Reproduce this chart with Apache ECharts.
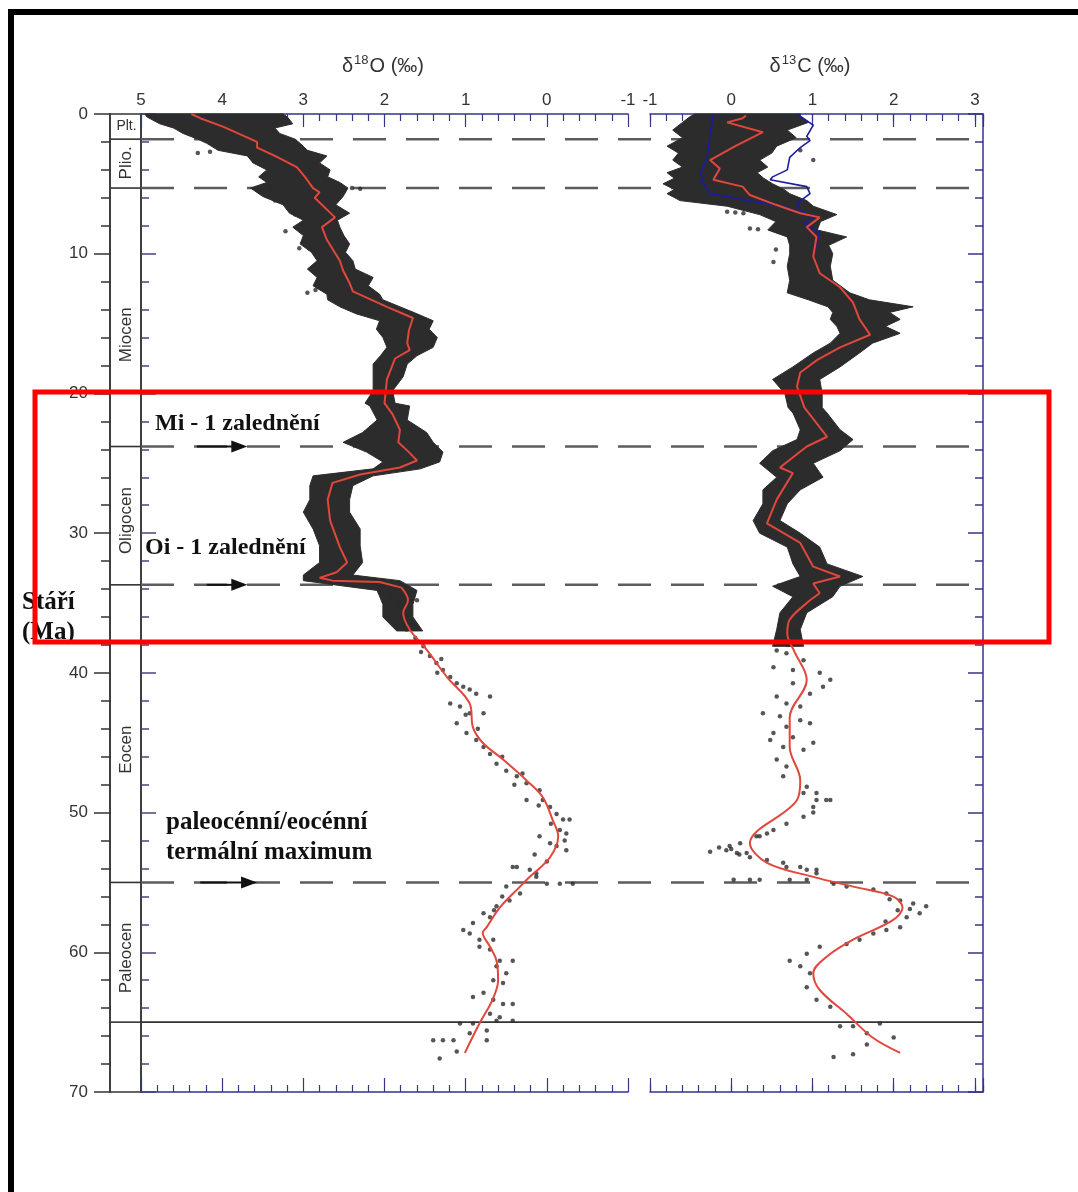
<!DOCTYPE html>
<html><head><meta charset="utf-8">
<script src="https://cdn.jsdelivr.net/npm/echarts@6/dist/echarts.min.js"></script>
<style>html,body{margin:0;padding:0;background:#fff}#c{width:1078px;height:1192px}</style>
</head><body><div id="c"></div>
<script>
// ---------------- data ----------------
const epochNames = ['Plt.', 'Plio.', 'Miocen', 'Oligocen', 'Eocen', 'Paleocen'];
const epochLabelAges = [0.9, 3.5, 15.8, 29.1, 45.5, 60.4];
const epochBoundaries = [1.8, 5.3, 23.8, 33.7, 55, 65];
const dashedAges = [1.8, 5.3, 23.8, 33.7, 55];
const solidAges = [65];

// δ18O smoothed (red) [age, value]
const d18SmoothNeogene = [[0.0,4.38],[0.3,4.27],[0.9,3.99],[2.0,3.57],[2.4,3.57],[3.0,3.35],[3.8,3.08],[4.5,2.98],[5.3,2.88],[5.6,2.80],[6.0,2.86],[7.4,2.61],[8.1,2.77],[9.0,2.71],[10.5,2.55],[11.2,2.51],[12.1,2.43],[12.7,2.39],[13.8,1.97],[14.6,1.65],[15.5,1.70],[16.4,1.72],[16.9,1.69],[17.5,1.87],[19.0,1.97],[20.7,2.00],[21.5,1.90],[22.6,1.81],[23.5,1.83],[24.2,1.70],[24.8,1.60],[25.3,1.81],[25.8,2.30],[26.4,2.64],[27.6,2.70],[29.1,2.67],[31.0,2.55],[32.1,2.46],[32.8,2.59],[33.2,2.80],[33.4,2.64],[33.5,2.06],[33.9,1.79]];
const d18SmoothPaleogene = [[33.9,1.79],[34.8,1.71],[35.7,1.77],[36.9,1.69],[38.2,1.50],[40.3,1.23],[42.2,0.95],[43.9,0.91],[45.0,0.79],[46.2,0.54],[47.7,0.25],[48.9,0.05],[50.5,-0.07],[51.7,-0.14],[53.2,-0.04],[54.6,0.21],[55.3,0.33],[56.8,0.58],[58.2,0.74],[58.6,0.79],[59.6,0.70],[60.6,0.62],[62.0,0.60],[63.4,0.67],[65.1,0.83],[67.2,1.01]];
// δ18O dense data cloud envelope [age, high value, low value]
const d18Cloud = [[0,4.95,3.25],[0.2,4.93,3.20],[0.7,4.77,3.13],[1.0,4.60,3.35],[1.4,4.48,3.29],[1.8,4.30,3.10],[2.1,4.19,3.04],[2.6,4.05,2.95],[3.0,3.69,2.71],[3.5,3.62,2.80],[4.0,3.45,2.67],[4.5,3.55,2.70],[4.9,3.45,2.55],[5.3,3.65,2.45],[5.9,3.50,2.51],[6.5,3.25,2.60],[7.1,3.17,2.43],[7.6,3.00,2.58],[8.1,3.13,2.55],[8.7,3.00,2.50],[9.3,3.04,2.43],[9.9,2.90,2.48],[10.5,2.83,2.39],[11.1,2.95,2.36],[11.7,2.83,2.14],[12.3,2.88,2.20],[12.9,2.71,2.06],[13.3,2.70,2.02],[13.8,2.55,1.81],[14.3,2.35,1.60],[14.8,2.06,1.40],[15.4,2.10,1.45],[16.0,2.02,1.35],[16.7,1.97,1.40],[17.3,2.05,1.60],[17.9,2.14,1.72],[18.8,2.14,1.77],[19.8,2.14,1.90],[20.7,2.24,1.87],[20.9,2.18,1.69],[21.9,2.09,1.72],[22.8,2.27,1.48],[23.5,2.51,1.40],[24.2,2.22,1.28],[24.9,2.02,1.32],[25.4,2.14,1.56],[25.9,2.88,2.14],[26.6,2.92,2.39],[27.6,2.92,2.43],[28.5,3.00,2.43],[29.7,2.88,2.30],[30.9,2.80,2.30],[32.1,2.80,2.27],[33.0,3.00,2.39],[33.4,3.00,1.81],[34.1,2.09,1.60],[35.1,2.02,1.65],[36.0,2.02,1.65],[37.0,1.85,1.53]];
// δ18O individual points [age, value]
const d18Points = [[2.7,4.15],[2.8,4.30],[5.5,3.55],[5.4,3.40],[5.3,2.40],[5.35,2.30],[6.2,3.35],[7.2,3.10],[8.4,3.22],[9.6,3.05],[12.6,2.85],[12.8,2.95],[34.2,2.06],[34.55,1.93],[35.0,1.81],[34.8,1.60],[35.3,1.85],[36.1,1.97],[36.0,1.81],[36.5,1.65],[36.9,1.73],[37.5,1.62],[38.1,1.52],[38.5,1.55],[38.8,1.44],[39.0,1.30],[39.3,1.36],[39.8,1.28],[40.0,1.35],[40.3,1.19],[40.75,1.11],[41.0,1.03],[41.2,0.95],[41.5,0.87],[41.7,0.70],[42.2,1.19],[42.4,1.07],[42.9,0.95],[42.9,0.78],[43.0,1.00],[43.6,1.11],[44.0,0.85],[44.3,0.99],[44.8,0.87],[45.3,0.78],[45.8,0.70],[46.0,0.55],[46.5,0.62],[47.0,0.50],[47.2,0.30],[47.4,0.37],[47.9,0.25],[48.0,0.40],[48.4,0.09],[49.1,0.05],[49.1,0.25],[49.5,0.10],[49.6,-0.04],[50.1,-0.12],[50.5,-0.20],[50.5,-0.28],[50.8,-0.05],[51.25,-0.16],[51.5,-0.24],[51.7,0.09],[52.0,-0.22],[52.2,-0.04],[52.4,-0.12],[52.7,-0.24],[53.0,0.15],[53.5,0.00],[53.9,0.37],[53.9,0.42],[54.1,0.21],[54.35,0.13],[54.6,0.13],[55.1,0.00],[55.1,-0.16],[55.1,-0.32],[55.3,0.50],[55.8,0.33],[56.0,0.55],[56.3,0.46],[56.7,0.62],[57.0,0.65],[57.2,0.78],[57.5,0.70],[57.9,0.91],[58.4,1.03],[58.65,0.95],[59.1,0.83],[59.1,0.66],[59.6,0.83],[59.8,0.70],[60.6,0.58],[60.6,0.42],[61.0,0.62],[61.5,0.50],[62.0,0.66],[62.2,0.54],[62.9,0.78],[63.2,0.91],[63.4,0.66],[63.7,0.54],[63.7,0.42],[64.4,0.70],[64.65,0.58],[64.9,0.62],[64.9,0.42],[65.1,1.07],[65.1,0.91],[65.6,0.74],[65.8,0.95],[66.3,1.40],[66.3,1.28],[66.3,1.15],[66.3,0.74],[67.1,1.11],[67.6,1.32]];

// δ13C smoothed (red) [age, value]
const d13SmoothNeogene = [[0.1,0.18],[0.3,0.14],[0.6,-0.05],[1.3,0.39],[2.3,0.05],[3.3,-0.26],[3.9,-0.14],[4.7,-0.22],[5.2,0.14],[5.8,0.23],[6.5,0.55],[7.1,0.85],[7.4,1.09],[8.1,0.93],[8.8,1.05],[10.2,1.01],[11.4,1.09],[12.4,1.34],[13.5,1.50],[14.7,1.58],[15.8,1.71],[16.7,1.34],[17.6,1.06],[18.5,0.85],[19.5,0.81],[21.0,0.90],[23.1,1.18],[23.8,0.93],[25.3,0.60],[25.7,0.76],[27.6,0.56],[29.3,0.44],[30.7,0.85],[32.4,1.01],[33.1,1.34],[33.6,1.01],[34.3,1.09]];
const d13SmoothPaleogene = [[34.3,1.09],[35.0,0.93],[36.2,0.72],[37.2,0.69],[38.5,0.78],[40.5,0.93],[43.2,0.72],[45.3,0.72],[47.7,0.85],[49.1,0.81],[52.2,0.23],[53.6,0.44],[54.6,1.01],[55.3,1.50],[56.0,1.99],[56.8,2.11],[57.7,1.99],[59.1,1.50],[60.3,1.18],[61.5,1.01],[62.7,1.09],[64.4,1.42],[66.1,1.74],[67.2,2.08]];
// δ13C second record (blue), two edges [age, value]
const d13BlueRight = [[0.0,0.81],[0.8,1.01],[1.6,0.93],[1.9,0.97],[2.4,0.85],[3.1,0.72],[4.0,0.69],[4.5,0.51],[4.7,0.48],[5.2,0.93],[5.7,0.97],[6.4,0.81],[6.9,0.85],[7.4,1.01],[7.8,0.89],[8.5,1.09],[9.2,1.05],[10.0,1.01]];
const d13BlueLeft = [[0.0,-0.22],[1.4,-0.26],[3.3,-0.30],[4.2,-0.38],[4.9,-0.35],[5.7,-0.26],[5.9,-0.05],[6.2,0.19],[6.4,0.44],[6.7,0.69],[7.1,0.85]];
// δ13C dense data cloud envelope [age, low value, high value]
const d13Cloud = [[0,-0.45,0.85],[0.2,-0.51,0.85],[0.6,-0.60,0.95],[1.15,-0.72,0.69],[1.7,-0.60,0.80],[2.3,-0.79,0.56],[2.8,-0.65,0.50],[3.3,-0.72,0.35],[3.8,-0.60,0.45],[4.2,-0.79,0.32],[4.6,-0.70,0.40],[5.0,-0.84,0.51],[5.4,-0.70,0.65],[5.7,-0.79,0.72],[6.2,-0.63,0.93],[6.6,-0.05,1.01],[7.2,0.35,1.30],[7.7,0.55,1.10],[8.3,0.45,1.06],[8.8,0.69,1.42],[9.4,0.72,1.20],[10.0,0.72,1.25],[10.9,0.69,1.22],[11.9,0.72,1.25],[12.8,0.69,1.46],[13.3,0.95,1.70],[13.8,1.19,2.24],[14.2,1.25,1.95],[14.7,1.22,2.08],[15.2,1.30,1.90],[15.7,1.34,2.08],[16.4,1.22,1.74],[17.1,1.01,1.58],[18.1,0.76,1.34],[19.0,0.51,1.09],[20.0,0.66,1.12],[21.0,0.70,1.12],[21.4,0.76,1.18],[22.6,0.85,1.34],[23.3,0.81,1.50],[24.1,0.51,1.34],[25.0,0.35,1.01],[26.0,0.56,1.13],[26.9,0.39,0.85],[27.9,0.39,0.69],[29.1,0.27,0.60],[30.0,0.35,0.85],[31.0,0.69,1.09],[32.2,0.76,1.18],[33.1,0.85,1.62],[33.8,0.51,1.34],[34.55,0.76,1.25],[35.7,0.60,0.93],[36.9,0.56,0.85],[38.1,0.51,0.89]];
// δ13C individual points [age, value]
const d13Points = [[7.0,-0.05],[7.05,0.05],[7.1,0.15],[8.2,0.23],[8.25,0.33],[9.7,0.55],[10.6,0.52],[3.3,1.01],[2.6,0.85],[36.5,0.60],[37.0,0.80],[37.5,0.62],[38.0,0.70],[38.4,0.56],[38.6,0.68],[39.1,0.89],[39.6,0.52],[39.8,0.76],[40.0,1.09],[40.5,1.22],[40.75,0.76],[41.0,1.13],[41.5,0.97],[41.7,0.56],[42.2,0.68],[42.4,0.85],[42.9,0.39],[43.1,0.60],[43.4,0.85],[43.6,0.97],[43.85,0.68],[44.3,0.52],[44.6,0.76],[44.8,0.48],[45.0,1.01],[45.3,0.64],[45.5,0.89],[46.2,0.56],[46.7,0.68],[47.4,0.64],[48.15,0.93],[48.6,1.05],[48.6,0.89],[49.1,1.17],[49.1,1.05],[49.1,1.22],[49.6,1.01],[50.0,1.01],[50.3,0.89],[50.8,0.68],[51.25,0.52],[51.5,0.44],[51.7,0.35],[51.7,0.31],[52.2,0.11],[52.4,-0.02],[52.5,-0.15],[52.6,0.00],[52.7,-0.06],[52.8,-0.26],[52.9,0.07],[52.9,0.19],[53.0,0.10],[53.2,0.23],[53.4,0.44],[53.6,0.64],[53.9,0.85],[53.9,0.68],[54.1,1.05],[54.1,0.93],[54.35,1.05],[54.8,0.03],[54.8,0.23],[54.8,0.35],[54.8,0.72],[54.8,0.93],[55.1,1.26],[55.3,1.42],[55.5,1.75],[55.8,1.91],[56.2,1.95],[56.3,2.08],[56.5,2.24],[56.7,2.40],[56.9,2.20],[57.0,2.05],[57.2,2.32],[57.5,2.16],[57.8,1.90],[58.2,2.08],[58.4,1.91],[58.65,1.75],[59.1,1.58],[59.4,1.42],[59.6,1.09],[60.1,0.93],[60.6,0.72],[61.0,0.85],[61.5,0.97],[62.5,0.93],[63.4,1.05],[63.9,1.22],[65.1,1.83],[65.3,1.34],[65.3,1.50],[65.8,1.67],[66.1,2.00],[66.6,1.67],[67.3,1.50],[67.5,1.26]];

// annotation arrows [age, from δ18O, to δ18O]
const arrowRows = [[23.8,4.31,3.69],[33.7,4.19,3.69],[55,4.27,3.57]];

// ---------------- chart ----------------
const NAVY = '#35358a';
const DARK = '#333';
const SANS = '"Liberation Sans", Arial, sans-serif';
const SERIF = '"Liberation Serif", "Times New Roman", serif';
const CLOUD = '#2c2c2c';
const RED = '#e2463c';

const xy = arr => arr.map(p => [p[1], p[0]]);

function envelope(rows) {
  return function (params, api) {
    const pts = [];
    for (let i = 0; i < rows.length; i++) pts.push(api.coord([rows[i][1], rows[i][0]]));
    for (let i = rows.length - 1; i >= 0; i--) pts.push(api.coord([rows[i][2], rows[i][0]]));
    return {type: 'polygon', shape: {points: pts}, style: {fill: CLOUD, stroke: CLOUD, lineWidth: 1}};
  };
}

const topAxisBase = (grid, min, max, interval, pos, labels, len, minor) => ({
  gridIndex: grid, type: 'value', position: pos, min: min, max: max, interval: interval,
  axisLine: {show: true, onZero: false, lineStyle: {color: NAVY, width: 1.5}},
  axisTick: {show: true, inside: true, length: len, lineStyle: {color: NAVY, width: 1.2}},
  minorTick: {show: !!minor, splitNumber: 5, length: 7, lineStyle: {color: NAVY, width: 1.2}},
  axisLabel: {show: labels, color: DARK, fontSize: 17, fontFamily: SANS, margin: 5,
    formatter: v => (Math.abs(v - Math.round(v)) < 1e-6 ? String(Math.round(v)) : '')},
  splitLine: {show: false}
});

const xAxes = [
  {gridIndex: 0, type: 'value', min: 0, max: 1, show: false},
  Object.assign(topAxisBase(1, -1, 5, 1, 'top', true, 13, true), {inverse: true}),
  Object.assign(topAxisBase(1, -1, 5, 1, 'bottom', false, 14, true), {inverse: true}),
  topAxisBase(2, -1, 3.1, 1, 'top', true, 13, false),
  Object.assign(topAxisBase(2, -1, 3.1, 0.2, 'top', false, 7, false), {axisLine: {show: false, onZero: false}}),
  topAxisBase(2, -1, 3.1, 1, 'bottom', false, 14, false),
  Object.assign(topAxisBase(2, -1, 3.1, 0.2, 'bottom', false, 7, false), {axisLine: {show: false, onZero: false}}),
  {gridIndex: 3, type: 'value', min: 0, max: 1, show: false}
];

const ageAxis = (grid, pos, opts) => Object.assign({
  gridIndex: grid, type: 'value', min: 0, max: 70, inverse: true, interval: 10, position: pos,
  splitLine: {show: false}
}, opts);

const yAxes = [
  ageAxis(0, 'left', {
    axisLine: {show: true, onZero: false, lineStyle: {color: DARK, width: 1.5}},
    axisTick: {show: true, length: 16, lineStyle: {color: DARK, width: 1.5}},
    minorTick: {show: true, splitNumber: 5, length: 9, lineStyle: {color: DARK, width: 1.5}},
    axisLabel: {color: DARK, fontSize: 17, fontFamily: SANS, margin: 22}
  }),
  ageAxis(1, 'left', {
    axisLine: {show: true, onZero: false, lineStyle: {color: DARK, width: 1.5}},
    axisTick: {show: true, inside: true, length: 15, lineStyle: {color: '#44447a', width: 1.5}},
    minorTick: {show: true, splitNumber: 5, length: 8, lineStyle: {color: '#44447a', width: 1.5}},
    axisLabel: {show: false}
  }),
  ageAxis(2, 'right', {
    axisLine: {show: true, onZero: false, lineStyle: {color: NAVY, width: 1.5}},
    axisTick: {show: true, inside: true, length: 15, lineStyle: {color: NAVY, width: 1.5}},
    minorTick: {show: true, splitNumber: 5, length: 8, lineStyle: {color: NAVY, width: 1.5}},
    axisLabel: {show: false}
  }),
  ageAxis(3, 'left', {show: false})
];

const series = [
  // boundary lines across both panels
  {type: 'custom', xAxisIndex: 7, yAxisIndex: 3, z: 1, silent: true,
    data: dashedAges.map(a => [0, a, 1]).concat(solidAges.map(a => [0, a, 0])),
    renderItem: (p, api) => {
      const a = api.value(1), dashed = api.value(2) === 1;
      const s = api.coord([0, a]), e = api.coord([1, a]);
      return {type: 'line', shape: {x1: s[0], y1: s[1], x2: e[0], y2: e[1]},
        style: dashed ? {stroke: '#5c5c5c', lineWidth: 2.5, lineDash: [33, 20]} : {stroke: DARK, lineWidth: 1.6}};
    }},
  // epoch column separators
  {type: 'custom', xAxisIndex: 0, yAxisIndex: 0, z: 2, silent: true,
    data: epochBoundaries.map(a => [0, a]),
    renderItem: (p, api) => {
      const a = api.value(1);
      const s = api.coord([0, a]), e = api.coord([1, a]);
      return {type: 'line', shape: {x1: s[0], y1: s[1], x2: e[0], y2: e[1]}, style: {stroke: DARK, lineWidth: 1.6}};
    }},
  // epoch labels
  {type: 'custom', xAxisIndex: 0, yAxisIndex: 0, z: 3, silent: true,
    data: epochNames.map((n, i) => [0.5, epochLabelAges[i], i]),
    renderItem: (p, api) => {
      const i = api.value(2);
      const c = api.coord([0.5, api.value(1)]);
      const horizontal = i === 0;
      return {type: 'text', x: c[0] + 1, y: c[1], rotation: horizontal ? 0 : Math.PI / 2,
        style: {text: epochNames[i], fill: DARK, font: (horizontal ? '14px ' : '17px ') + SANS,
          align: 'center', verticalAlign: 'middle'}};
    }},
  // δ18O
  {type: 'custom', xAxisIndex: 1, yAxisIndex: 1, z: 3, silent: true, data: [[0, 0]], renderItem: envelope(d18Cloud)},
  {type: 'scatter', xAxisIndex: 1, yAxisIndex: 1, z: 3, symbolSize: 4.5, itemStyle: {color: CLOUD}, data: xy(d18Points)},
  {type: 'line', xAxisIndex: 1, yAxisIndex: 1, z: 5, symbol: 'none', smooth: false,
    lineStyle: {color: RED, width: 2}, data: xy(d18SmoothNeogene)},
  {type: 'line', xAxisIndex: 1, yAxisIndex: 1, z: 5, symbol: 'none', smooth: 0.35,
    lineStyle: {color: RED, width: 2}, data: xy(d18SmoothPaleogene)},
  // arrows
  {type: 'custom', xAxisIndex: 1, yAxisIndex: 1, z: 6, silent: true, data: arrowRows,
    renderItem: (p, api) => {
      const a = api.value(0);
      const s = api.coord([api.value(1), a]), e = api.coord([api.value(2), a]);
      return {type: 'group', children: [
        {type: 'line', shape: {x1: s[0], y1: s[1], x2: e[0] - 10, y2: e[1]}, style: {stroke: '#111', lineWidth: 2}},
        {type: 'polygon', shape: {points: [[e[0], e[1]], [e[0] - 16, e[1] - 6], [e[0] - 16, e[1] + 6]]}, style: {fill: '#111'}}
      ]};
    }},
  // δ13C
  {type: 'custom', xAxisIndex: 3, yAxisIndex: 2, z: 3, silent: true, data: [[0, 0]], renderItem: envelope(d13Cloud)},
  {type: 'scatter', xAxisIndex: 3, yAxisIndex: 2, z: 3, symbolSize: 4.5, itemStyle: {color: CLOUD}, data: xy(d13Points)},
  {type: 'line', xAxisIndex: 3, yAxisIndex: 2, z: 4, symbol: 'none', lineStyle: {color: '#1c1ca0', width: 1.6}, data: xy(d13BlueRight)},
  {type: 'line', xAxisIndex: 3, yAxisIndex: 2, z: 4, symbol: 'none', lineStyle: {color: '#1c1ca0', width: 1.6}, data: xy(d13BlueLeft)},
  {type: 'line', xAxisIndex: 3, yAxisIndex: 2, z: 5, symbol: 'none', smooth: false,
    lineStyle: {color: RED, width: 2}, data: xy(d13SmoothNeogene)},
  {type: 'line', xAxisIndex: 3, yAxisIndex: 2, z: 5, symbol: 'none', smooth: 0.35,
    lineStyle: {color: RED, width: 2}, data: xy(d13SmoothPaleogene)}
];

const annoFont = 'bold 24px ' + SERIF;
const annoFontL = 'bold 25px ' + SERIF;
const titleRich = {
  a: {fontSize: 20, fontFamily: SANS, fill: DARK, lineHeight: 24},
  s: {fontSize: 13, fontFamily: SANS, fill: DARK, lineHeight: 24, verticalAlign: 'top', padding: [0, 1, 9, 1]}
};

const option = {
  animation: false,
  backgroundColor: '#fff',
  grid: [
    {left: 110, top: 114, width: 31, height: 978, show: true, borderColor: DARK, borderWidth: 1.5, backgroundColor: 'transparent'},
    {left: 141, top: 114, width: 487, height: 978},
    {left: 650, top: 114, width: 333, height: 978},
    {left: 141, top: 114, width: 842, height: 978}
  ],
  xAxis: xAxes,
  yAxis: yAxes,
  series: series,
  graphic: [
    {type: 'rect', z: 50, shape: {x: 8, y: 9, width: 1070, height: 6}, style: {fill: '#000'}},
    {type: 'rect', z: 50, shape: {x: 8, y: 9, width: 6, height: 1183}, style: {fill: '#000'}},
    {type: 'text', z: 50, x: 383, y: 66, style: {text: '{a|δ}{s|18}{a|O (‰)}', rich: titleRich, align: 'center', verticalAlign: 'middle'}},
    {type: 'text', z: 50, x: 810, y: 66, style: {text: '{a|δ}{s|13}{a|C (‰)}', rich: titleRich, align: 'center', verticalAlign: 'middle'}},
    {type: 'text', z: 50, x: 155, y: 424, style: {text: 'Mi - 1 zalednění', font: annoFont, fill: '#111', verticalAlign: 'middle'}},
    {type: 'text', z: 50, x: 145, y: 548, style: {text: 'Oi - 1 zalednění', font: annoFont, fill: '#111', verticalAlign: 'middle'}},
    {type: 'text', z: 50, x: 166, y: 823, style: {text: 'paleocénní/eocénní', font: annoFontL, fill: '#111', verticalAlign: 'middle'}},
    {type: 'text', z: 50, x: 166, y: 853, style: {text: 'termální maximum', font: annoFontL, fill: '#111', verticalAlign: 'middle'}},
    {type: 'text', z: 50, x: 22, y: 603, style: {text: 'Stáří', font: annoFontL, fill: '#111', verticalAlign: 'middle'}},
    {type: 'text', z: 50, x: 22, y: 633, style: {text: '(Ma)', font: annoFontL, fill: '#111', verticalAlign: 'middle'}},
    {type: 'rect', z: 60, shape: {x: 35, y: 392, width: 1014, height: 250}, style: {fill: 'none', stroke: '#ff0000', lineWidth: 5}}
  ]
};

const chart = echarts.init(document.getElementById('c'));
chart.setOption(option);
</script>
</body></html>
